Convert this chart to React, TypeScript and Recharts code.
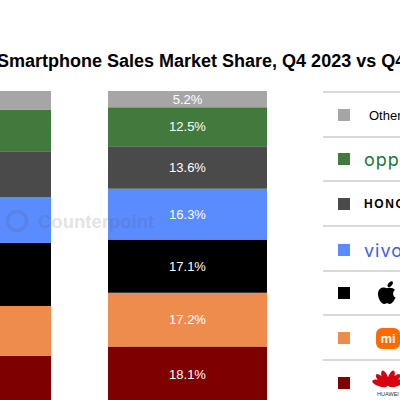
import React from 'react'
import { BarChart, Bar, XAxis, YAxis, LabelList } from 'recharts'

const quarters = ['Q4 2023', 'Q4 2024']
const huawei = [15.1, 18.1]
const xiaomi = [16.0, 17.2]
const apple = [20.2, 17.1]
const vivo = [14.7, 16.3]
const honor = [14.7, 13.6]
const oppo = [13.4, 12.5]
const others = [5.9, 5.2]

// bottom to top
const series = [
  { key: 'Huawei', values: huawei, color: '#7f0000' },
  { key: 'Xiaomi', values: xiaomi, color: '#ee8c4e' },
  { key: 'Apple', values: apple, color: '#000000' },
  { key: 'vivo', values: vivo, color: '#5b8cff' },
  { key: 'HONOR', values: honor, color: '#4a4a4a' },
  { key: 'OPPO', values: oppo, color: '#427a3d' },
  { key: 'Others', values: others, color: '#a6a6a6' }
]

const data = quarters.map((q, i) => {
  const row: Record<string, string | number> = { quarter: q }
  series.forEach((s) => { row[s.key] = s.values[i] })
  return row
})

const fmt = (v: unknown) => `${Number(v).toFixed(1)}%`

function AppleIcon() {
  return (
    <svg width="22" height="24" viewBox="0 0 20 24">
      <ellipse cx="13.2" cy="3.2" rx="1.9" ry="3.4" transform="rotate(40 13.2 3.2)" fill="#000" />
      <path
        d="M10 7.2 C7 5.6 1 6.2 1 13 C1 18 4.6 23 7.2 23 C9 23 9 22.3 10 22.3 C11 22.3 11 23 12.8 23 C15.2 23 17.4 19.2 18.6 16.6 C15.8 15.4 15.2 11 18 9 C16.2 6.8 13 6.2 10 7.2 Z"
        fill="#000"
      />
    </svg>
  )
}

function XiaomiIcon() {
  return (
    <svg width="24" height="21" viewBox="0 0 24 21">
      <rect x="0" y="0" width="24" height="21" rx="6" fill="#ff6a00" />
      <text x="12" y="15" textAnchor="middle" fontFamily="Arial, sans-serif" fontWeight="bold" fontSize="13" fill="#fff">mi</text>
    </svg>
  )
}

function HuaweiIcon() {
  const petals = [-72, -46, -20, 20, 46, 72]
  return (
    <svg width="34" height="28" viewBox="0 0 34 28">
      {petals.map((a) => (
        <ellipse key={a} cx="17" cy="8.5" rx="3" ry="8" fill="#d7000f" transform={`rotate(${a} 17 17)`} />
      ))}
      <text x="17" y="27" textAnchor="middle" fontFamily="Arial, sans-serif" fontSize="5.5" fill="#333">HUAWEI</text>
    </svg>
  )
}

const legendRows = [
  { key: 'Others', color: '#a6a6a6', y: 115, node: <span style={{ fontSize: 13, color: '#000', marginLeft: 5 }}>Others</span> },
  { key: 'OPPO', color: '#427a3d', y: 159, node: <span style={{ fontSize: 18, color: '#1b7536', letterSpacing: 1, fontFamily: 'Inter, sans-serif', fontWeight: 400 }}>oppo</span> },
  { key: 'HONOR', color: '#4a4a4a', y: 204, node: <span style={{ fontSize: 12, color: '#000', fontWeight: 'bold', letterSpacing: 1.6 }}>HONOR</span> },
  { key: 'vivo', color: '#5b8cff', y: 250, node: <span style={{ fontSize: 18, color: '#3f5cf5', letterSpacing: 1, fontFamily: 'Inter, sans-serif', fontWeight: 400 }}>vivo</span> },
  { key: 'Apple', color: '#000000', y: 293, node: <span style={{ marginLeft: 12, display: 'flex' }}><AppleIcon /></span> },
  { key: 'Xiaomi', color: '#ee8c4e', y: 338, node: <span style={{ marginLeft: 12, display: 'flex' }}><XiaomiIcon /></span> },
  { key: 'Huawei', color: '#7f0000', y: 383, node: <span style={{ marginLeft: 7, display: 'flex' }}><HuaweiIcon /></span> }
]

const separators = [92, 137, 181, 226, 271, 315, 360]

export default function App() {
  return (
    <div style={{ position: 'absolute', left: 0, top: 0, width: 400, height: 400, overflow: 'hidden', background: '#fff', fontFamily: 'Arial, "Liberation Sans", sans-serif' }}>
      <div
        style={{ position: 'absolute', left: -3, top: 51, fontSize: 18, fontWeight: 'bold', whiteSpace: 'nowrap', color: '#000' }}
      >
        Smartphone Sales Market Share, Q4 2023 vs Q4 2024
      </div>

      <div style={{ position: 'absolute', left: -137, top: 0 }}>
        <BarChart width={432} height={403} data={data} margin={{ top: 91, right: 0, bottom: 0, left: 0 }} barSize={159}>
          <XAxis dataKey="quarter" hide />
          <YAxis hide domain={[0, 100]} />
          {series.map((s) => (
            <Bar key={s.key} dataKey={s.key} stackId="share" fill={s.color} isAnimationActive={false}>
              <LabelList dataKey={s.key} position="center" formatter={fmt} fill="#fff" fontSize={13} fontFamily="Arial, sans-serif" />
            </Bar>
          ))}
        </BarChart>
      </div>

      {/* watermark and legend rules */}
      <svg style={{ position: 'absolute', left: 0, top: 0, pointerEvents: 'none' }} width="400" height="400">
        <g opacity="0.16" fill="#555">
          <circle cx="17" cy="221" r="9.5" fill="none" stroke="#555" strokeWidth="3.5" />
          <text x="38" y="228" fontFamily="Arial, sans-serif" fontWeight="bold" fontSize="18.5">Counterpoint</text>
        </g>
        {separators.map((y) => (
          <line key={y} x1={323} x2={400} y1={y} y2={y} stroke="#cccccc" strokeWidth={1.5} />
        ))}
      </svg>

      {legendRows.map((r) => (
        <div key={r.key} style={{ position: 'absolute', left: 338, top: r.y - 14, height: 28, display: 'flex', alignItems: 'center', whiteSpace: 'nowrap' }}>
          <div style={{ width: 12, height: 12, background: r.color, marginRight: 14, flexShrink: 0 }} />
          {r.node}
        </div>
      ))}
    </div>
  )
}
